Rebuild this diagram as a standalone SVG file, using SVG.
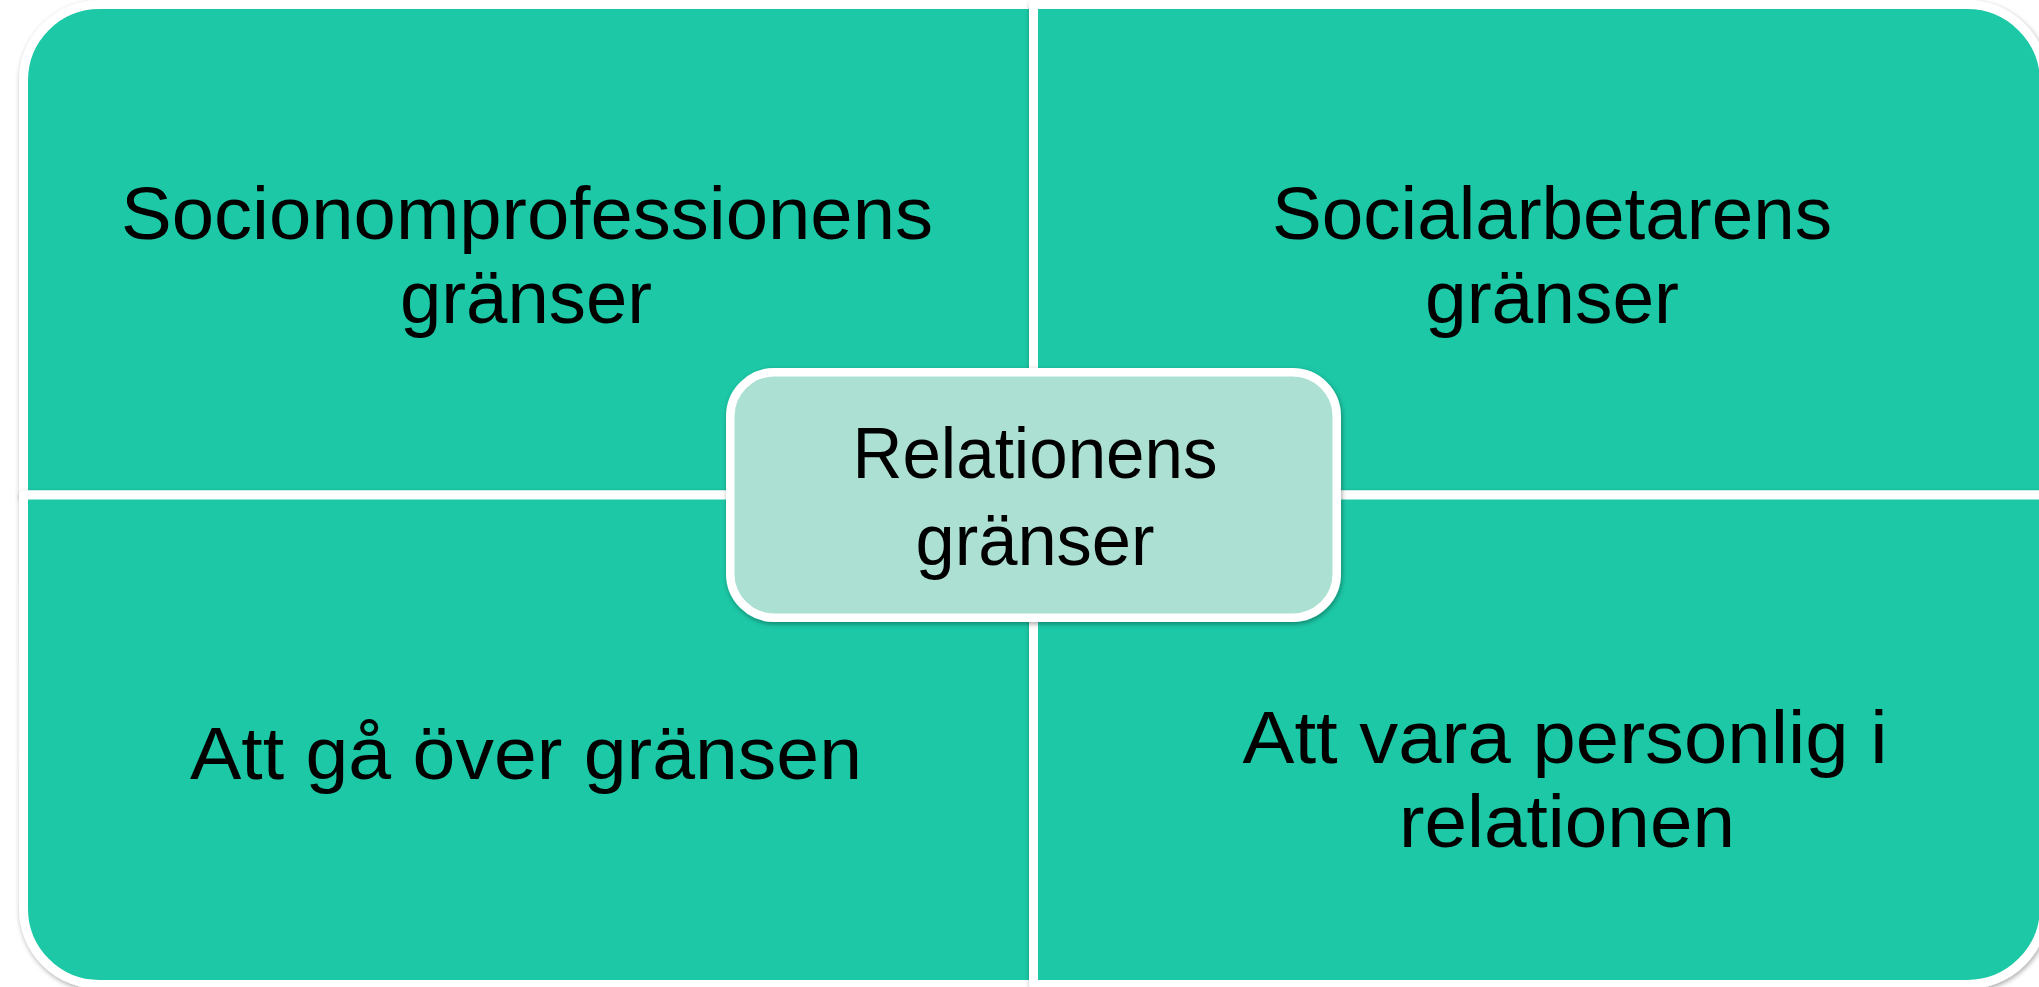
<svg xmlns="http://www.w3.org/2000/svg" width="2039" height="987" viewBox="0 0 2039 987">
  <defs>
    <filter id="shadow" x="-5%" y="-5%" width="110%" height="110%">
      <feDropShadow dx="1" dy="2" stdDeviation="2.5" flood-color="#000" flood-opacity="0.35"/>
    </filter>
  </defs>
  <style>
    .quad { fill: #1BC8A6; stroke: #FFFFFF; stroke-width: 9; stroke-linejoin: round; }
    .center { fill: #ABE0D2; stroke: #FFFFFF; stroke-width: 8.5; }
    .lbl { font-family: "Liberation Sans", Arial, sans-serif; font-size: 74.5px; fill: #000000; text-anchor: middle; }
    .clbl { font-size: 72px; }
  </style>
  <rect width="2039" height="987" fill="#FFFFFF"/>

  <g id="node-top-left" filter="url(#shadow)">
    <path class="quad" d="M23.5,495 L23.5,80.5 A76,76 0 0 1 99.5,4.5 L1033.5,4.5 L1033.5,495 Z"/>
    <text class="lbl"><tspan x="527" y="239" textLength="812" lengthAdjust="spacingAndGlyphs">Socionomprofessionens</tspan><tspan x="526" y="323" textLength="252" lengthAdjust="spacingAndGlyphs">gränser</tspan></text>
  </g>

  <g id="node-top-right" filter="url(#shadow)">
    <path class="quad" d="M1033.5,4.5 L1967,4.5 A77.5,77.5 0 0 1 2044.5,82 L2044.5,495 L1033.5,495 Z"/>
    <text class="lbl"><tspan x="1552" y="239" textLength="560" lengthAdjust="spacingAndGlyphs">Socialarbetarens</tspan><tspan x="1552" y="323" textLength="254" lengthAdjust="spacingAndGlyphs">gränser</tspan></text>
  </g>

  <g id="node-bottom-left" filter="url(#shadow)">
    <path class="quad" d="M23.5,495 L1033.5,495 L1033.5,984.5 L99.5,984.5 A76,76 0 0 1 23.5,908.5 Z"/>
    <text class="lbl" x="526" y="779" textLength="672" lengthAdjust="spacingAndGlyphs">Att gå över gränsen</text>
  </g>

  <g id="node-bottom-right" filter="url(#shadow)">
    <path class="quad" d="M1033.5,495 L2044.5,495 L2044.5,907 A77.5,77.5 0 0 1 1967,984.5 L1033.5,984.5 Z"/>
    <text class="lbl"><tspan x="1565" y="763" textLength="645" lengthAdjust="spacingAndGlyphs">Att vara personlig i</tspan><tspan x="1567" y="847" textLength="336" lengthAdjust="spacingAndGlyphs">relationen</tspan></text>
  </g>

  <g id="connectors"></g>

  <g id="node-center" filter="url(#shadow)">
    <rect class="center" x="730.25" y="372.25" width="606.5" height="245.5" rx="44" ry="44"/>
    <text class="lbl clbl"><tspan x="1035" y="478" textLength="365" lengthAdjust="spacingAndGlyphs">Relationens</tspan><tspan x="1035" y="565" textLength="239" lengthAdjust="spacingAndGlyphs">gränser</tspan></text>
  </g>
</svg>
